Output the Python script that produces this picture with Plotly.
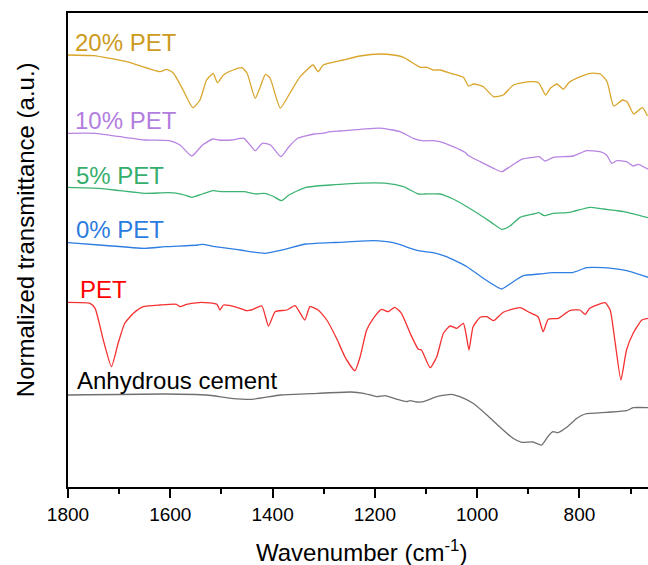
import plotly.graph_objects as go

# Wavenumber (cm-1) and normalized transmittance (a.u., offset stacked)
wn_pet20 = [1800, 1750, 1685, 1620, 1607, 1594, 1575, 1556, 1542, 1529, 1516, 1508, 1496, 1477, 1460, 1450,
            1434, 1424, 1414, 1405, 1385, 1366, 1346, 1321, 1311, 1301, 1262, 1229, 1189, 1164, 1144, 1111,
            1098, 1086, 1072, 1052, 1027, 1017, 1007, 988, 968, 949, 929, 896, 880, 866, 857, 844, 831, 821,
            798, 778, 759, 746, 733, 716, 707, 694, 677, 667]
t_pet20 = [432, 431.3, 425.3, 415.3, 417.7, 414, 397, 379.3, 387, 407, 413.7, 404.3, 412, 417, 419.3, 414,
           388.7, 400.3, 412.7, 409, 379, 394, 410.3, 422, 415.3, 422, 427, 431, 433, 432, 429.7, 419.7,
           419.7, 417, 417, 413.7, 409.7, 401, 403, 400.3, 390.3, 392, 402, 405.3, 404.3, 392, 398.7, 403, 397.7, 404.3,
           410.3, 413.7, 413, 405.3, 381, 387, 385.3, 373, 379.3, 371]

wn_pet10 = [1800, 1747, 1690, 1650, 1602, 1581, 1558, 1537, 1517, 1505, 1480, 1456, 1444, 1434, 1420, 1404,
            1384, 1368, 1351, 1319, 1303, 1287, 1268, 1203, 1184, 1151, 1125, 1108, 1086, 1073, 1047, 1024,
            1017, 994, 968, 952, 936, 913, 890, 879, 867, 851, 812, 786, 760, 747, 737, 727, 708, 695, 685, 666]
t_pet10 = [353.7, 353.7, 349.7, 347, 346.3, 342, 331, 342, 348, 347, 347, 348.7, 342, 336.3, 343.7, 342,
           330.3, 340.3, 348.7, 353, 353.7, 355.3, 356, 358.7, 358.7, 355.3, 348.7, 346.3, 346.3, 345.3, 340.3, 334.7,
           331.3, 325.3, 318.7, 315.3, 320.3, 327.7, 329.7, 330.3, 326, 329.7, 331, 336.3, 335.3, 332, 323.7, 326.3,
           325.3, 321, 322.7, 317.7]

wn_pet5 = [1800, 1739, 1698, 1650, 1602, 1577, 1558, 1537, 1517, 1497, 1456, 1432, 1416, 1400, 1382, 1368,
           1335, 1287, 1268, 1236, 1177, 1144, 1115, 1102, 1073, 1047, 1020, 994, 968, 952, 936, 916, 890,
           879, 869, 851, 819, 780, 753, 727, 714, 666]
t_pet5 = [299.7, 298.7, 296.3, 293.7, 294.3, 292.7, 289.7, 293, 296.3, 295.3, 295.3, 293, 293.7, 291, 286.3, 292,
          299.7, 302, 302.7, 303.7, 303.7, 300.3, 293, 293, 293, 288, 280.3, 272, 263, 257.7, 261, 269.7, 273,
          274.3, 271.3, 273.7, 274.7, 279.7, 278, 276.3, 275.3, 269.3]

wn_pet0 = [1800, 1739, 1650, 1610, 1546, 1537, 1513, 1464, 1416, 1376, 1335, 1287, 1268, 1203, 1164, 1115,
           1086, 1060, 1020, 988, 962, 952, 936, 910, 878, 851, 812, 786, 753, 708, 666]
t_pet0 = [244.3, 242, 238.7, 240.3, 242, 242.7, 240.3, 237, 233.7, 237.7, 243, 244.3, 244.7, 246.3, 244.3, 236.3,
          234.3, 230.3, 220.3, 208.7, 200.3, 198, 203, 211.3, 213, 214.3, 214.7, 219.3, 219.3, 216.3, 209.7]

wn_pet = [1800, 1757, 1747, 1731, 1715, 1702, 1689, 1672, 1653, 1620, 1588, 1581, 1568, 1539, 1509, 1503,
          1496, 1470, 1451, 1438, 1421, 1408, 1395, 1372, 1356, 1337, 1327, 1311, 1294, 1275, 1258, 1239,
          1229, 1216, 1203, 1187, 1174, 1161, 1148, 1131, 1115, 1109, 1092, 1079, 1066, 1053, 1040, 1027,
          1022, 1016, 1008, 994, 981, 968, 949, 916, 897, 881, 871, 861, 841, 819, 799, 789, 780, 750,
          740, 730, 719, 708, 695, 678, 666]
t_pet = [184.7, 183.7, 178.7, 147, 120.3, 143.7, 163.7, 173.7, 180.3, 182, 182.7, 180.3, 182.7, 184.7, 182.7, 177,
         182, 179.7, 176.3, 177.7, 181, 161, 175.3, 177, 181.3, 167, 180.3, 177, 167, 148.7, 129.7, 116.3,
         130, 157, 168.7, 177.7, 175.3, 179.7, 173.7, 153.7, 137.7, 137, 119.3, 130.3, 153.7, 161, 158.7, 163.7,
         153.7, 137, 160.3, 169.7, 170.3, 166.3, 174.7, 179.3, 174.3, 170.3, 155.3, 167.7, 168.7, 176.3, 177, 172.7, 178.7, 184.3,
         177, 143.7, 107, 137, 153.7, 167, 168.7]

wn_cement = [1800, 1610, 1529, 1481, 1440, 1384, 1311, 1247, 1222, 1196, 1180, 1157, 1138, 1131, 1118, 1105,
             1079, 1050, 1034, 1008, 981, 955, 930, 913, 891, 874, 862, 852, 842, 825, 805, 789, 747, 708, 695, 666]
t_cement = [92, 93, 92, 88.7, 87.7, 92, 93.7, 95, 93.7, 90.3, 91.3, 87.7, 85.3, 86.3, 85, 85.3,
            90.3, 92.7, 90.3, 83.7, 72, 59.7, 48.7, 44.7, 45, 42, 50.3, 55.3, 54.3, 59.7, 68.7, 73, 74.7, 76.3, 79.3, 79.3]

series_names = ["20% PET", "10% PET", "5% PET", "0% PET", "PET", "Anhydrous cement"]
series_x = [wn_pet20, wn_pet10, wn_pet5, wn_pet0, wn_pet, wn_cement]
series_y = [t_pet20, t_pet10, t_pet5, t_pet0, t_pet, t_cement]
line_colors = ["#D9A52A", "#B784E2", "#3DB473", "#2F7EE2", "#F53030", "#707070"]
label_colors = ["#CC9A1C", "#B27DDF", "#36AE6C", "#2C7BDF", "#FF0000", "#000000"]

# label positions (layout only): left offset in paper units and vertical centre in axis units
label_x = [0.009, 0.009, 0.011, 0.011, 0.018, 0.012]
label_y = [445, 367, 312, 258, 198, 107]

fig = go.Figure()
for name, xs, ys, c in zip(series_names, series_x, series_y, line_colors):
    fig.add_trace(go.Scatter(x=xs, y=ys, mode="lines", name=name,
                             line=dict(color=c, width=1.3, shape="spline", smoothing=0.5),
                             showlegend=False, hoverinfo="skip"))

font_family = "Liberation Sans, Arial, sans-serif"
for name, lx, ly, c in zip(series_names, label_x, label_y, label_colors):
    fig.add_annotation(x=lx, y=ly, xref="paper", yref="y", text=name, showarrow=False,
                       xanchor="left", yanchor="middle",
                       font=dict(family=font_family, size=24, color=c))

fig.add_annotation(x=0.506, y=-0.134, xref="paper", yref="paper",
                   text="Wavenumber (cm<sup>-1</sup>)", showarrow=False,
                   xanchor="center", yanchor="middle",
                   font=dict(family=font_family, size=24, color="#000000"))
fig.add_annotation(x=-0.074, y=0.542, xref="paper", yref="paper",
                   text="Normalized transmittance (a.u.)", showarrow=False, textangle=-90,
                   xanchor="center", yanchor="middle",
                   font=dict(family=font_family, size=24, color="#000000"))

fig.update_layout(
    width=648, height=565,
    margin=dict(l=68, r=0, t=13, b=78),
    paper_bgcolor="white", plot_bgcolor="white",
    xaxis=dict(range=[1800, 666], showgrid=False, zeroline=False,
               showline=True, linecolor="black", linewidth=2, mirror=True,
               ticks="outside", ticklen=9, tickwidth=2, tickcolor="black",
               tickvals=[1800, 1600, 1400, 1200, 1000, 800],
               ticktext=["1800", "1600", "1400", "1200", "1000", "800"],
               minor=dict(ticks="outside", ticklen=5, tickwidth=2, tickcolor="black", dtick=100, tick0=0),
               tickfont=dict(family=font_family, size=19, color="black")),
    yaxis=dict(range=[0, 474], showgrid=False, zeroline=False, showticklabels=False,
               showline=True, linecolor="black", linewidth=2, mirror=False, ticks=""),
)

fig.write_html("out.html")
